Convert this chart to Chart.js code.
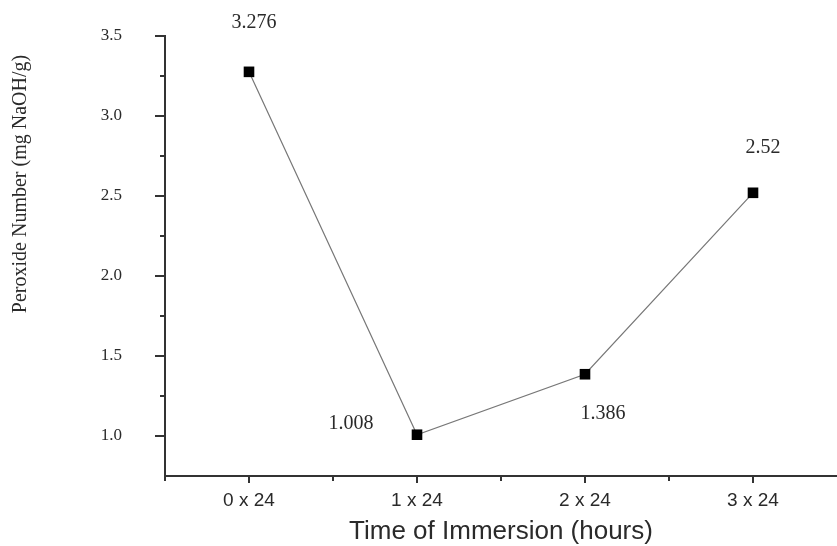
<!DOCTYPE html>
<html><head><meta charset="utf-8">
<script src="https://cdn.jsdelivr.net/npm/chart.js@4.4.0/dist/chart.umd.min.js"></script>
<style>html,body{margin:0;padding:0;background:#fff}</style>
</head><body><canvas id="c" width="837" height="546"></canvas>
<script>
const categories = ['0 x 24', '1 x 24', '2 x 24', '3 x 24'];
const peroxide = [3.276, 1.008, 1.386, 2.52];
const valueLabels = ['3.276', '1.008', '1.386', '2.52'];
const yTickLabels = ['1.0', '1.5', '2.0', '2.5', '3.0', '3.5'];
const yTitle = 'Peroxide Number (mg NaOH/g)';
const xTitle = 'Time of Immersion (hours)';

const AXIS = '#333';
const TEXT = '#2a2a2a';

const tickMarks = {
  id: 'tickMarks',
  afterDraw(chart) {
    const ctx = chart.ctx;
    const xs = chart.scales.x, ys = chart.scales.y;
    ctx.save();
    ctx.strokeStyle = AXIS;
    ctx.lineWidth = 2;
    ys.ticks.forEach(t => {
      const v = t.value;
      const major = Math.abs(v * 2 - Math.round(v * 2)) < 1e-9;
      const p = ys.getPixelForValue(v);
      if (p > chart.chartArea.bottom - 1) return;
      const len = major ? 10 : 5;
      ctx.beginPath();
      ctx.moveTo(xs.left - len, p);
      ctx.lineTo(xs.left, p);
      ctx.stroke();
    });
    xs.ticks.forEach(t => {
      const v = t.value;
      const major = Number.isInteger(v);
      const p = xs.getPixelForValue(v);
      if (p > chart.chartArea.right - 2) return;
      const len = major ? 7 : 5;
      ctx.beginPath();
      ctx.moveTo(p, ys.bottom);
      ctx.lineTo(p, ys.bottom + len);
      ctx.stroke();
    });
    ctx.restore();
  }
};

const valueLabelPlugin = {
  id: 'valueLabels',
  afterDatasetsDraw(chart) {
    const ctx = chart.ctx;
    const meta = chart.getDatasetMeta(0);
    const offsets = [[5, -49], [-66, -11], [18, 40], [10, -45]];
    ctx.save();
    ctx.font = '20px "Liberation Serif"';
    ctx.fillStyle = TEXT;
    ctx.textAlign = 'center';
    ctx.textBaseline = 'middle';
    meta.data.forEach((pt, i) => {
      ctx.fillText(valueLabels[i], pt.x + offsets[i][0], pt.y + offsets[i][1]);
    });
    ctx.restore();
  }
};

const yTitlePlugin = {
  id: 'yTitle',
  afterDraw(chart) {
    const ctx = chart.ctx;
    ctx.save();
    ctx.font = '20px "Liberation Serif"';
    ctx.fillStyle = TEXT;
    ctx.textAlign = 'center';
    ctx.textBaseline = 'middle';
    ctx.translate(21, 184);
    ctx.rotate(-Math.PI / 2);
    ctx.fillText(yTitle, 0, 0);
    ctx.restore();
  }
};

new Chart(document.getElementById('c'), {
  type: 'line',
  data: {
    datasets: [{
      data: peroxide.map((y, i) => ({ x: i, y })),
      borderColor: '#777',
      borderWidth: 1.2,
      tension: 0,
      clip: false,
      pointStyle: 'rect',
      pointRadius: 7.5,
      pointBackgroundColor: '#000',
      pointBorderColor: '#000',
      pointBorderWidth: 0
    }]
  },
  options: {
    responsive: false,
    animation: false,
    layout: { autoPadding: false, padding: { top: 36, left: 0, right: 0, bottom: 0 } },
    plugins: { legend: { display: false }, tooltip: { enabled: false } },
    scales: {
      x: {
        type: 'linear',
        min: -0.5, max: 3.5,
        grid: { display: false, drawTicks: false },
        border: { display: true, color: AXIS, width: 2 },
        ticks: {
          stepSize: 0.5,
          padding: 13,
          color: TEXT,
          font: { family: '"Liberation Sans"', size: 19 },
          maxRotation: 0,
          autoSkip: false,
          callback: v => Number.isInteger(v) && categories[v] !== undefined ? categories[v] : ''
        },
        title: {
          display: true,
          text: xTitle,
          color: TEXT,
          font: { family: '"Liberation Sans"', size: 26, lineHeight: 1 },
          padding: { top: 2, bottom: 1 }
        },
        afterFit: s => { s.height = 70; s.paddingLeft = 0; s.paddingRight = 0; }
      },
      y: {
        type: 'linear',
        min: 0.75, max: 3.5,
        grid: { display: false, drawTicks: false },
        border: { display: true, color: AXIS, width: 2 },
        ticks: {
          stepSize: 0.25,
          padding: 43,
          color: TEXT,
          font: { family: '"Liberation Serif"', size: 17 },
          autoSkip: false,
          callback: v => {
            const s = Number(v).toFixed(1);
            const major = Math.abs(v * 2 - Math.round(v * 2)) < 1e-9;
            return major && yTickLabels.includes(s) ? s : '';
          }
        },
        afterFit: s => { s.width = 165; s.paddingTop = 0; s.paddingBottom = 0; }
      }
    }
  },
  plugins: [tickMarks, valueLabelPlugin, yTitlePlugin]
});
</script>
</body></html>
